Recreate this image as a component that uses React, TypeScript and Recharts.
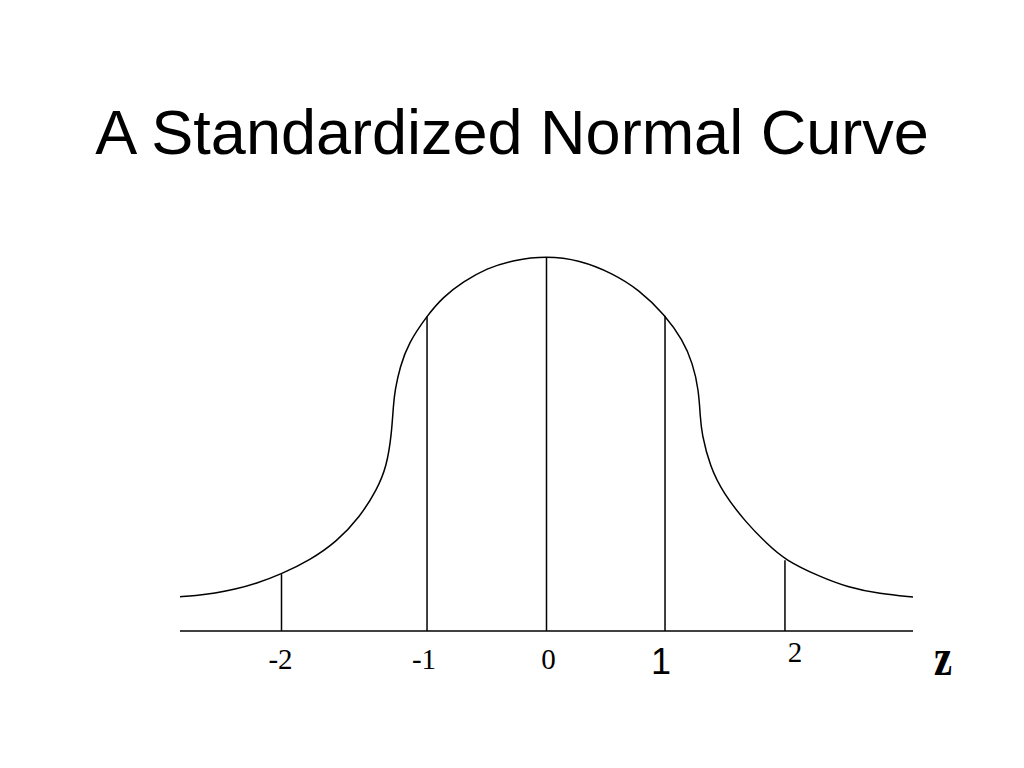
import {
  ComposedChart,
  Line,
  XAxis,
  YAxis,
  ReferenceLine,
  Label,
} from "recharts";

// curve (z units, height in density units)
const curveZ = [
  -3.08, -2.954, -2.786, -2.618, -2.45, -2.227, -1.987, -1.763, -1.567,
  -1.427, -1.343, -1.301, -1.287, -1.273, -1.231, -1.161, -1.004, -0.867,
  -0.699, -0.503, -0.279, 0, 0.276, 0.556, 0.78, 0.996, 1.145, 1.229, 1.279,
  1.292, 1.304, 1.374, 1.486, 1.682, 1.85, 2.004, 2.298, 2.525, 2.803, 3.08,
];
const curveY = [
  0.0366, 0.0377, 0.0402, 0.0445, 0.0501, 0.0608, 0.0757, 0.0953, 0.1219,
  0.1504, 0.1753, 0.2109, 0.2411, 0.2571, 0.2819, 0.3069, 0.3363, 0.3566,
  0.3726, 0.3869, 0.3957, 0.4, 0.3957, 0.3815, 0.3637, 0.3371, 0.3104,
  0.2855, 0.2571, 0.2286, 0.2109, 0.1753, 0.1469, 0.1149, 0.0935, 0.0757,
  0.0579, 0.0469, 0.0395, 0.0363,
];

// vertical markers under the curve
const markerZ = [-2.227, -1.004, 0, 0.996, 2.004];
const markerTop = [0.0606, 0.3355, 0.3988, 0.3362, 0.0755];
const markerLabels = ["-2", "-1", "0", "1", "2"];

const data = curveZ.map((z, i) => ({ z, y: curveY[i] }));

const serif = "'Liberation Serif', 'Times New Roman', serif";
const sans = "'Liberation Sans', Arial, sans-serif";

// the slide mixes fonts on the tick labels, keep that look
const tickStyles = [
  { dx: -1, dy: 30, font: serif, size: 29 },
  { dx: -3, dy: 30, font: serif, size: 29 },
  { dx: 2, dy: 30, font: serif, size: 29 },
  { dx: -4, dy: 35, font: sans, size: 36 },
  { dx: 10, dy: 23, font: serif, size: 29 },
];

const ZTick = (props: any) => {
  const { x, y, index } = props;
  const s = tickStyles[index] ?? tickStyles[0];
  return (
    <text
      x={x + s.dx}
      y={y + s.dy}
      textAnchor="middle"
      fill="#000"
      fontFamily={s.font}
      fontSize={s.size}
    >
      {markerLabels[index]}
    </text>
  );
};

const ZLabel = (props: any) => {
  const { viewBox } = props;
  const cx = viewBox.x + viewBox.width + 30;
  return (
    <text
      x={cx}
      y={viewBox.y + 44}
      textAnchor="middle"
      fill="#000"
      fontFamily={serif}
      fontWeight="bold"
      fontSize={52}
      transform={`translate(${cx * 0.22}, 0) scale(0.78, 1)`}
    >
      z
    </text>
  );
};

export default function App() {
  return (
    <div
      style={{
        position: "absolute",
        left: 0,
        top: 0,
        width: 1024,
        height: 768,
        background: "#fff",
      }}
    >
      <div
        style={{
          position: "absolute",
          left: 0,
          top: 96,
          width: 1024,
          textAlign: "center",
          fontFamily: sans,
          fontSize: 63,
          lineHeight: "72px",
          color: "#000",
        }}
      >
        A Standardized Normal Curve
      </div>
      <ComposedChart
        width={1024}
        height={768}
        data={data}
        margin={{ top: 256, right: 111, bottom: 107, left: 180 }}
        style={{ position: "absolute", left: 0, top: 0 }}
      >
        <XAxis
          dataKey="z"
          type="number"
          domain={[-3.08, 3.08]}
          ticks={markerZ}
          tickLine={false}
          height={30}
          axisLine={{ stroke: "#000", strokeWidth: 1.5 }}
          tick={<ZTick />}
          interval={0}
        >
          <Label content={<ZLabel />} />
        </XAxis>
        <YAxis hide domain={[0, 0.4]} />
        {markerZ.map((z, i) => (
          <ReferenceLine
            key={`m-${i}`}
            segment={[
              { x: z, y: 0 },
              { x: z, y: markerTop[i] },
            ]}
            stroke="#000"
            strokeWidth={1.5}
          />
        ))}
        <Line
          type="basis"
          dataKey="y"
          stroke="#000"
          strokeWidth={1.5}
          dot={false}
          activeDot={false}
          isAnimationActive={false}
        />
      </ComposedChart>
    </div>
  );
}
